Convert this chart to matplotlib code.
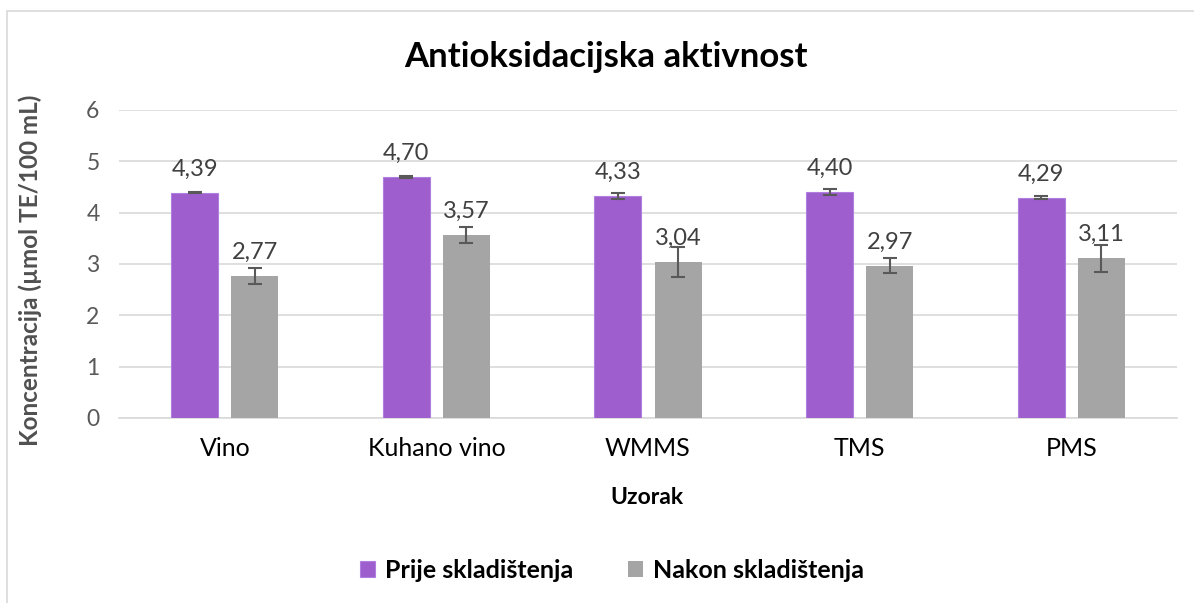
import numpy as np
import matplotlib
matplotlib.use("Agg")
import matplotlib.pyplot as plt
from matplotlib.patches import Rectangle

plt.rcParams['font.family'] = ['Lato', 'DejaVu Sans']

categories = ["Vino", "Kuhano vino", "WMMS", "TMS", "PMS"]
prije = [4.39, 4.70, 4.33, 4.40, 4.29]
prije_err = [0.01, 0.02, 0.06, 0.06, 0.03]
nakon = [2.77, 3.57, 3.04, 2.97, 3.11]
nakon_err = [0.15, 0.16, 0.29, 0.15, 0.26]
series_names = ["Prije skladištenja", "Nakon skladištenja"]

purple = "#9E5ECE"
gray = "#A5A5A5"

fig = plt.figure(figsize=(11.94, 6.03), dpi=100)
ax = fig.add_axes([0.0997, 0.3068, 0.886, 0.5108])

# outer chart border
fig.patches.append(Rectangle((7 / 1194, -0.1), 1.2, 1 - 11 / 603 + 0.1,
                             transform=fig.transFigure, fill=False,
                             edgecolor="#D9D9D9", linewidth=1.2))

x = np.arange(len(categories))
w = 0.222
off = 0.142

b1 = ax.bar(x - off, prije, w, color=purple, edgecolor="#B07FE0", linewidth=0.8,
            label=series_names[0], zorder=3)
b2 = ax.bar(x + off, nakon, w, color=gray, label=series_names[1], zorder=3)
ax.errorbar(x - off, prije, yerr=prije_err, fmt="none", ecolor="#595959",
            elinewidth=1.5, capsize=5, capthick=1.5, zorder=4)
ax.errorbar(x + off, nakon, yerr=nakon_err, fmt="none", ecolor="#595959",
            elinewidth=1.5, capsize=5, capthick=1.5, zorder=4)

for xs, vals in ((x - off, prije), (x + off, nakon)):
    for xi, v in zip(xs, vals):
        ax.annotate(f"{v:.2f}".replace(".", ","), (xi, v), xytext=(0, 17),
                    textcoords="offset points", ha="center", va="center",
                    fontsize=17, color="#404040")

ax.set_xlim(-0.5, len(categories) - 0.5)
ax.set_ylim(0, 6)
ax.set_yticks(range(0, 7))
ax.set_xticks(x)
ax.set_xticklabels(categories, fontsize=18, color="#000000")
ax.tick_params(axis="y", labelsize=16.5, labelcolor="#595959", length=0, pad=14)
ax.tick_params(axis="x", length=0, pad=14)
ax.grid(axis="y", color="#D9D9D9", linewidth=1.2, zorder=0)
for s in ("top", "right", "left"):
    ax.spines[s].set_visible(False)
ax.spines["bottom"].set_color("#D9D9D9")
ax.spines["bottom"].set_linewidth(1.2)

fig.text(606 / 1194, 1 - 57 / 603, "Antioksidacijska aktivnost", fontsize=25,
         fontweight="bold", ha="center", va="center", color="#000000")
ax.set_xlabel("Uzorak", fontsize=16.5, fontweight="bold", color="#000000")
ax.xaxis.set_label_coords((647 - 119) / 1058, (418 - 497) / 308)
ax.xaxis.label.set_va("center")
ax.set_ylabel("Koncentracija (µmol TE/100 mL)", fontsize=17.5, fontweight="bold",
              color="#505050")
ax.yaxis.set_label_coords((30 - 119) / 1058, (418 - 270) / 308)
ax.yaxis.label.set_va("center")

fig.legend(handles=[b1, b2], loc="center", bbox_to_anchor=(612 / 1194, 1 - 570 / 603),
           ncol=2, frameon=False, prop={"weight": "bold", "size": 18},
           handlelength=0.6, handleheight=0.6, columnspacing=2.2, handletextpad=0.4)

fig.savefig("out.png", dpi=100)
